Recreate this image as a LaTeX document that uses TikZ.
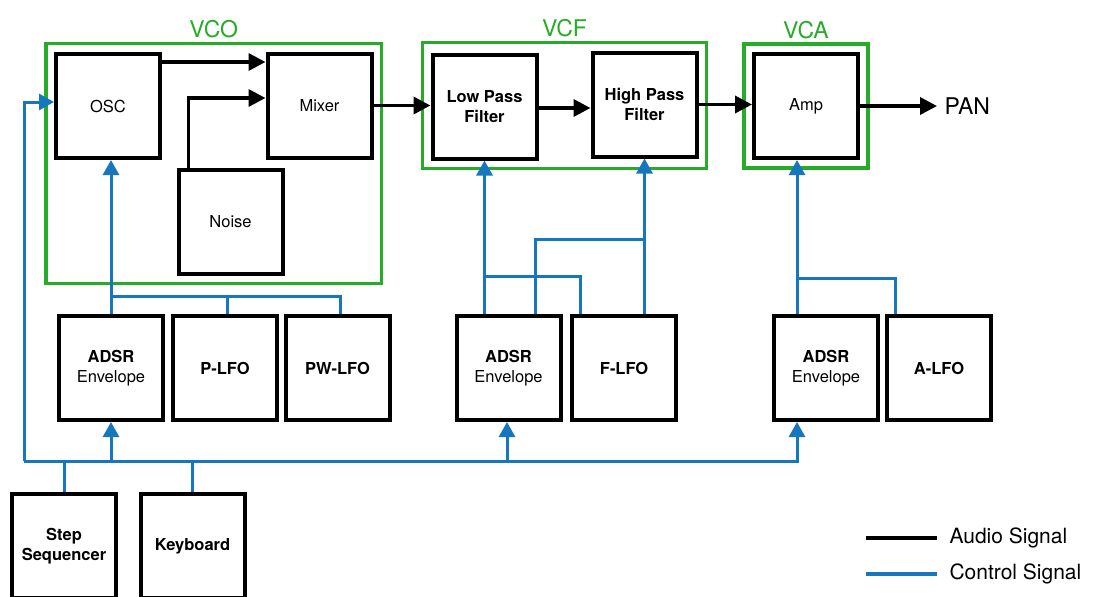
\documentclass[tikz,border=0pt]{standalone}
\usepackage{fontspec}
\setmainfont{TeX Gyre Heros}
\usetikzlibrary{arrows.meta,fit}

\definecolor{modgreen}{RGB}{38,172,38}
\definecolor{ctrlblue}{RGB}{22,118,190}

\begin{document}
\begin{tikzpicture}[x=1pt,y=-1pt]
\tikzstyle{block} = [rectangle, draw = black, line width = 4pt, minimum width = 104pt, minimum height = 104pt, inner sep = 0pt, align = center, font = \fontsize{16.5}{20}\selectfont]
\tikzstyle{module} = [rectangle, draw = modgreen, line width = 3.5pt, inner sep = 8pt]
\tikzstyle{title} = [text = modgreen, font = \fontsize{23}{26}\selectfont]
\tikzstyle{audio} = [-{Triangle[length=17pt,width=17pt]}, line width = 3.5pt]
\tikzstyle{ctrl} = [-{Triangle[length=15pt,width=16pt]}, color = ctrlblue, line width = 3pt]
\tikzstyle{wire} = [color = ctrlblue, line width = 3pt]

\useasboundingbox (0,0) rectangle (1096,597);
\clip (0,0) rectangle (1096,597);
% -----------------------------------
% VCO
\node[block] (OSC) at (108, 106) {OSC};
\node[block] (MIX) at (319.5, 105.5) {Mixer};
\node[block] (NOISE) at (230.5, 221.5) {Noise};
\node[module, fit = (OSC)(MIX)(NOISE), label = {[title]above:VCO}] (VCO) {};

\draw[audio] ([yshift=-10pt]OSC.north east) -- ([yshift=-10pt]OSC.north east -| MIX.west);
\draw[audio] ([xshift=12pt]NOISE.north west) |- ([yshift=7.5pt]MIX.west);

% -----------------------------------
% VCF
\node[block] (LPF) at (484.5, 106.5) {\textbf{Low Pass}\\\textbf{Filter}};
\node[block] (HPF) at (644.5, 104.5) {\textbf{High Pass}\\\textbf{Filter}};
\node[module, fit = (LPF)(HPF), label = {[title]above:VCF}] (VCF) {};

\draw[audio] (MIX.east) -- (MIX.east -| LPF.west);
\draw[audio] ([yshift=-1.5pt]LPF.east) -- ([yshift=-1.5pt]LPF.east -| HPF.west);

% -----------------------------------
% VCA
\node[block] (AMP) at (806, 106) {Amp};
\node[module, fit = (AMP), label = {[title]above:VCA}] (VCA) {};
\node[anchor = west, font = \fontsize{23}{26}\selectfont] (PAN) at (941, 106) {PAN};

\draw[audio] (HPF.east) -- (HPF.east -| AMP.west);
\draw[audio] (AMP.east) -- ([xshift=-4pt]AMP.east -| PAN.west);

% -----------------------------------
% modulators
\node[block] (ENV1) at (111, 368) {\textbf{ADSR}\\Envelope};
\node[block] (PLFO) at (225, 368) {\textbf{P-LFO}};
\node[block] (PWLFO) at (337.5, 368) {\textbf{PW-LFO}};
\node[block] (ENV2) at (508.5, 368) {\textbf{ADSR}\\Envelope};
\node[block] (FLFO) at (624, 368) {\textbf{F-LFO}};
\node[block] (ENV3) at (826, 368) {\textbf{ADSR}\\Envelope};
\node[block] (ALFO) at (939, 368) {\textbf{A-LFO}};

\coordinate (vcoj) at (111, 296);
\coordinate (hpj) at (644.5, 239);
\coordinate (lpj) at (484.5, 276);
\coordinate (vcaj) at (797, 278);

\draw[ctrl] (ENV1.north) -- (ENV1.north |- OSC.south);
\draw[wire] (vcoj) -| ([xshift=2.5pt]PWLFO.north);
\draw[wire] ([xshift=2pt]PLFO.north) -- ([xshift=2pt]PLFO.north |- vcoj);

\draw[ctrl] (LPF.south |- ENV2.north) -- (LPF.south);
\draw[ctrl] (HPF.south |- FLFO.north) -- (HPF.south);
\draw[wire] ([xshift=26.5pt]ENV2.north) |- (hpj);
\draw[wire] ([xshift=-44pt]FLFO.north) |- (lpj);

\draw[ctrl] ([xshift=-29pt]ENV3.north) -- ([xshift=-9pt]AMP.south);
\draw[wire] ([xshift=-44pt]ALFO.north) |- (vcaj);

% -----------------------------------
% sources and bus
\node[block] (SEQ) at (64, 546) {\textbf{Step}\\\textbf{Sequencer}};
\node[block] (KEY) at (192.5, 546) {\textbf{Keyboard}};

\coordinate (busL) at (24, 461);
\coordinate (busR) at (797, 461);

\draw[ctrl] (busL) |- ([yshift=4pt]OSC.west);
\draw[ctrl] (busL) -- (busR) -- ([xshift=-29pt]ENV3.south);
\draw[ctrl] (ENV1.south |- busL) -- (ENV1.south);
\draw[ctrl] ([xshift=-1.5pt]ENV2.south |- busL) -- ([xshift=-1.5pt]ENV2.south);
\draw[wire] (SEQ.north) -- (SEQ.north |- busL);
\draw[wire] (KEY.north) -- (KEY.north |- busL);

% -----------------------------------
% legend
\coordinate (la1) at (866, 538);
\coordinate (la2) at (937, 538);
\coordinate (lc1) at (866, 574);
\coordinate (lc2) at (937, 574);
\node[anchor = west, font = \fontsize{21}{24}\selectfont] (LAUD) at (946, 538) {Audio Signal};
\node[anchor = west, font = \fontsize{21}{24}\selectfont] (LCTL) at (946, 574) {Control Signal};

\draw[line width = 3.5pt] (la1) -- (la2);
\draw[wire, line width = 3.5pt] (lc1) -- (lc2);
% -----------------------------------
\end{tikzpicture}
\end{document}
